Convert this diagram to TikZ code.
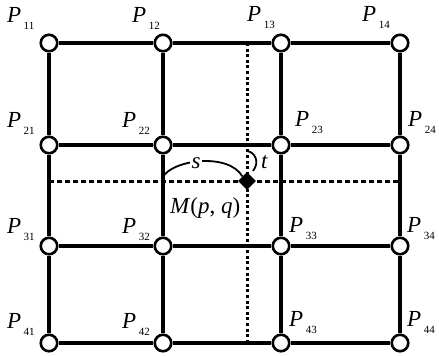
\documentclass[tikz,border=0pt]{standalone}
\usepackage{fontspec}
\setmainfont{Liberation Serif}
\usepackage{tikz}
\usetikzlibrary{shapes.geometric,backgrounds}
\newcommand{\psub}[1]{\textit{P}\hspace{2.5pt}\raisebox{-7pt}{\fontsize{11}{12}\selectfont #1}}
\tikzset{
  vertex/.style={circle, draw=black, fill=white, line width=2.6pt,
                 minimum size=16.5pt, inner sep=0pt},
  gridline/.style={line width=3.2pt, draw=black},
  dashline/.style={line width=3pt, draw=black, dash pattern=on 5pt off 3pt},
  dotline/.style={line width=3pt, draw=black, dash pattern=on 3pt off 2.6pt},
  marker/.style={diamond, fill=black, minimum size=18pt, inner sep=0pt},
  plabel/.style={anchor=base west, inner sep=0pt, font=\fontsize{23}{26}\selectfont},
  arcline/.style={line width=1.8pt, draw=black}
}
\begin{document}
\begin{tikzpicture}[x=1pt, y=-1pt]
\useasboundingbox (0,0) rectangle (439,356);

% --- Grid points ---
\node[vertex] (p11) at (49,43) {};
\node[vertex] (p12) at (163,43) {};
\node[vertex] (p13) at (281,43) {};
\node[vertex] (p14) at (400,43) {};
\node[vertex] (p21) at (49,145) {};
\node[vertex] (p22) at (163,145) {};
\node[vertex] (p23) at (281,145) {};
\node[vertex] (p24) at (400,145) {};
\node[vertex] (p31) at (49,246) {};
\node[vertex] (p32) at (163,246) {};
\node[vertex] (p33) at (281,246) {};
\node[vertex] (p34) at (400,246) {};
\node[vertex] (p41) at (49,343) {};
\node[vertex] (p42) at (163,343) {};
\node[vertex] (p43) at (281,343) {};
\node[vertex] (p44) at (400,343) {};

% --- Interpolated point ---
\node[marker] (m) at (247,181) {};
\coordinate (vtop) at (247,43);
\coordinate (vbot) at (247,343);
\coordinate (hleft) at (49,181);
\coordinate (hright) at (400,181);
\coordinate (sfrom) at (163,177);
\coordinate (tfrom) at (247,151);

% --- Point labels ---
\node[plabel] (l11) at (7,22) {\psub{11}};
\node[plabel] (l12) at (132,22) {\psub{12}};
\node[plabel] (l13) at (247,21) {\psub{13}};
\node[plabel] (l14) at (362,21) {\psub{14}};
\node[plabel] (l21) at (7,127) {\psub{21}};
\node[plabel] (l22) at (122,127) {\psub{22}};
\node[plabel] (l23) at (295,126) {\psub{23}};
\node[plabel] (l24) at (408,126) {\psub{24}};
\node[plabel] (l31) at (7,233) {\psub{31}};
\node[plabel] (l32) at (122,233) {\psub{32}};
\node[plabel] (l33) at (289,232) {\psub{33}};
\node[plabel] (l34) at (407,232) {\psub{34}};
\node[plabel] (l41) at (7,328) {\psub{41}};
\node[plabel] (l42) at (122,328) {\psub{42}};
\node[plabel] (l43) at (289,326) {\psub{43}};
\node[plabel] (l44) at (407,326) {\psub{44}};

\node[plabel] (mlab) at (170,213) {\textit{M}(\textit{p}, \textit{q})};
\node[plabel, fill=white, inner sep=1.5pt] (slab) at (190,168) {\textit{s}};
\node[plabel] (tlab) at (261,168) {\textit{t}};

% --- Lines ---
\begin{scope}[on background layer]
\draw[gridline] (p11) -- (p12) -- (p13) -- (p14);
\draw[gridline] (p21) -- (p22) -- (p23) -- (p24);
\draw[gridline] (p31) -- (p32) -- (p33) -- (p34);
\draw[gridline] (p41) -- (p42) -- (p43) -- (p44);
\draw[gridline] (p11) -- (p21) -- (p31) -- (p41);
\draw[gridline] (p12) -- (p22) -- (p32) -- (p42);
\draw[gridline] (p13) -- (p23) -- (p33) -- (p43);
\draw[gridline] (p14) -- (p24) -- (p34) -- (p44);
\draw[dashline] (hleft) -- (hright);
\draw[dotline] (vtop) -- (vbot);
\draw[arcline] (sfrom) .. controls (172,160) and (228,152) .. (m.north west);
\draw[arcline] (tfrom) .. controls (255,152) and (260,162) .. (253,171);
\end{scope}

\end{tikzpicture}
\end{document}
